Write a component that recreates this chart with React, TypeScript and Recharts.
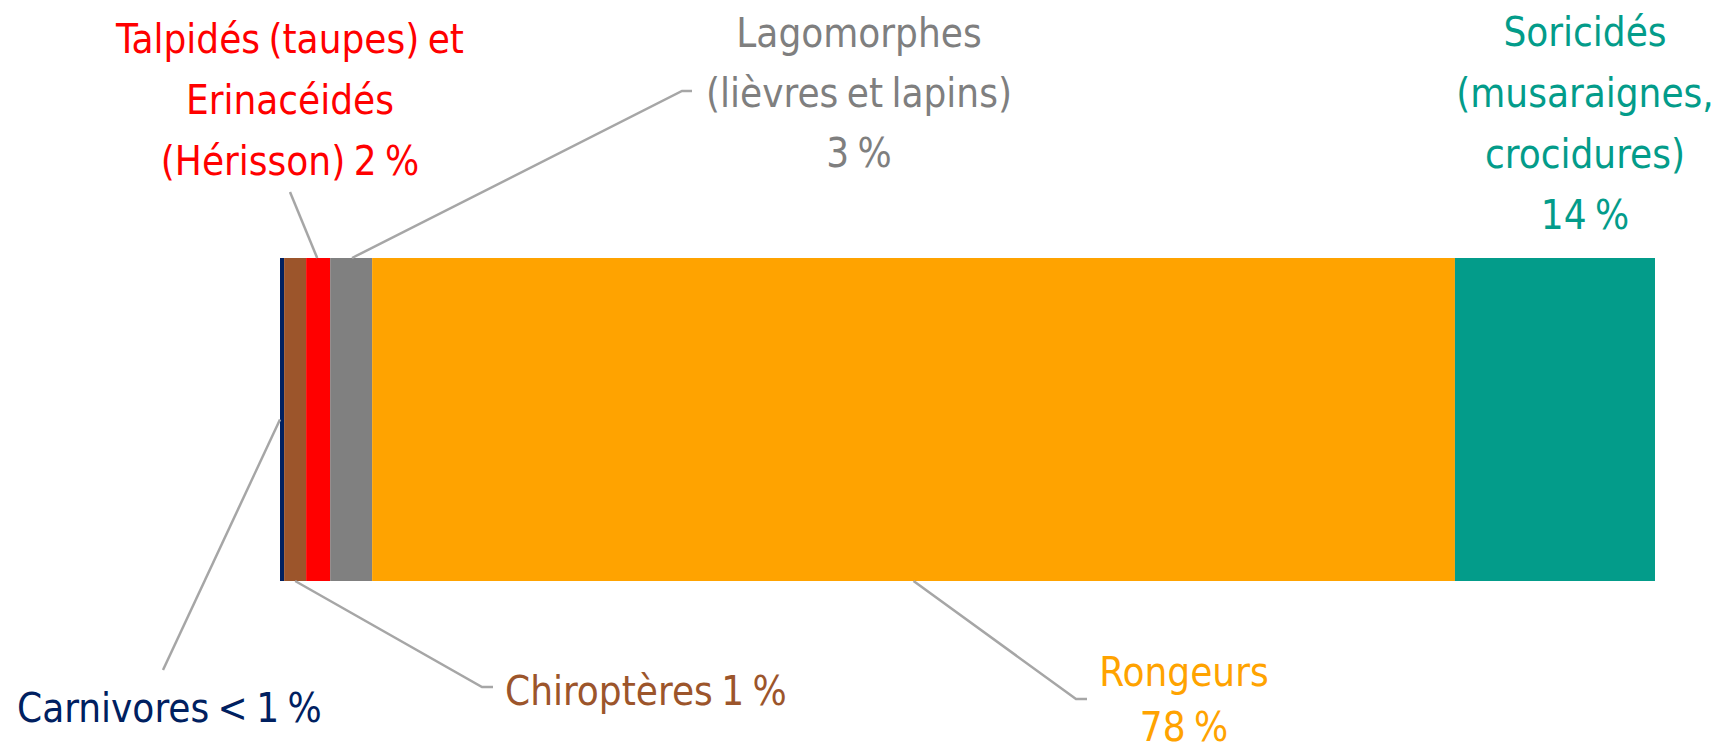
import React from 'react';
import { BarChart, Bar, XAxis, YAxis } from 'recharts';

// Share of each mammal group (%)
const categories = ['Carnivores', 'Chiroptères', 'Talpidés et Erinacéidés', 'Lagomorphes', 'Rongeurs', 'Soricidés'];
const shares = [0.3, 1.6, 1.75, 3.05, 78.75, 14.55];
const barColors = ['#002060', '#9c552b', '#ff0000', '#808080', '#ffa300', '#039c8a'];
const textColors = ['#002060', '#9c552b', '#ff0000', '#7f7f7f', '#ffa300', '#039c8a'];
const labelLines = [
  ['Carnivores < 1 %'],
  ['Chiroptères 1 %'],
  ['Talpidés (taupes) et', 'Erinacéidés', '(Hérisson) 2 %'],
  ['Lagomorphes', '(lièvres et lapins)', '3 %'],
  ['Rongeurs', '78 %'],
  ['Soricidés', '(musaraignes,', 'crocidures)', '14 %'],
];

const W = 1729;
const H = 750;
const FONT = "'DejaVu Sans Condensed', 'Liberation Sans Narrow', sans-serif";
const LEADER = '#a6a6a6';

// where each annotation sits: anchor on the bar, leader bends, text block
type Layout = {
  side: 'left' | 'top' | 'bottom' | 'none';
  f: number;
  bends: number[][];
  tx: number;
  ty: number;
  lh: number;
  anchor: 'start' | 'middle';
};
const layouts: Layout[] = [
  { side: 'left', f: 0.5, bends: [[163, 670]], tx: 17, ty: 722, lh: 61, anchor: 'start' },
  { side: 'bottom', f: 0.5, bends: [[482, 687], [493, 687]], tx: 505, ty: 705, lh: 61, anchor: 'start' },
  { side: 'top', f: 0.46, bends: [[290, 192]], tx: 290, ty: 53, lh: 61, anchor: 'middle' },
  { side: 'top', f: 0.52, bends: [[682, 91], [692, 91]], tx: 859, ty: 47, lh: 60, anchor: 'middle' },
  { side: 'bottom', f: 0.5, bends: [[1076, 699], [1087, 699]], tx: 1184, ty: 686, lh: 55, anchor: 'middle' },
  { side: 'none', f: 0, bends: [], tx: 1585, ty: 46, lh: 61, anchor: 'middle' },
];

const row: Record<string, number | string> = { name: 'Mammifères' };
categories.forEach((_, i) => {
  row[`s${i}`] = shares[i];
});
const data = [row];
const total = shares.reduce((a, b) => a + b, 0);

const makeShape = (i: number) => (props: any) => {
  const { x, y, width, height } = props;
  const lay = layouts[i];
  let ax = x;
  let ay = y;
  if (lay.side === 'left') {
    ax = x;
    ay = y + height * lay.f;
  } else if (lay.side === 'top') {
    ax = x + width * lay.f;
    ay = y;
  } else if (lay.side === 'bottom') {
    ax = x + width * lay.f;
    ay = y + height;
  }
  const pts = [[ax, ay], ...lay.bends].map((p) => p.join(',')).join(' ');
  return (
    <g>
      <rect x={x} y={y} width={width} height={height} fill={barColors[i]} />
      {lay.side !== 'none' && (
        <polyline points={pts} fill="none" stroke={LEADER} strokeWidth={2.5} />
      )}
      <text
        x={lay.tx}
        y={lay.ty}
        textAnchor={lay.anchor}
        fill={textColors[i]}
        fontSize={40}
        fontFamily={FONT}
        style={{ wordSpacing: '-3px' }}
      >
        {labelLines[i].map((line, k) => (
          <tspan key={k} x={lay.tx} y={lay.ty + k * lay.lh}>
            {line}
          </tspan>
        ))}
      </text>
    </g>
  );
};

export default function App() {
  return (
    <div style={{ position: 'absolute', left: 0, top: 0, width: W, height: H, background: '#fff' }}>
      <BarChart
        width={W}
        height={H}
        data={data}
        layout="vertical"
        barCategoryGap={0}
        margin={{ top: 258, right: 74, bottom: 169, left: 280 }}
      >
        <XAxis type="number" hide domain={[0, total]} />
        <YAxis type="category" dataKey="name" hide />
        {categories.map((c, i) => (
          <Bar
            key={c}
            dataKey={`s${i}`}
            name={c}
            stackId="a"
            fill={barColors[i]}
            shape={makeShape(i)}
            isAnimationActive={false}
          />
        ))}
      </BarChart>
    </div>
  );
}
